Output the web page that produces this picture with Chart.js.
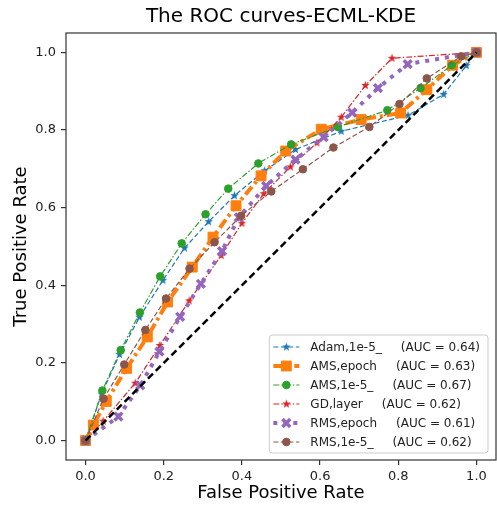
<!DOCTYPE html>
<html lang="en">
<head>
  <meta charset="UTF-8">
  <title>The ROC curves-ECML-KDE</title>
  <script src="https://cdn.jsdelivr.net/npm/chart.js"></script>
  <style>
    body {
      margin: 0;
      background: #fff;
    }
    canvas {
      display: block;
    }
  </style>
</head>
<body>
  <canvas id="roc" width="497" height="506"></canvas>

  <script>
    // values
    const xTicks = [0.0, 0.2, 0.4, 0.6, 0.8, 1.0];
    const yTicks = [0.0, 0.2, 0.4, 0.6, 0.8, 1.0];

    const names = ["Adam,1e-5_", "AMS,epoch", "AMS,1e-5_", "GD,layer", "RMS,epoch", "RMS,1e-5_"];
    const aucs = [0.64, 0.63, 0.67, 0.62, 0.61, 0.62];

    const adamFpr = [0, 0.041, 0.087, 0.138, 0.198, 0.253, 0.315, 0.381, 0.458, 0.537, 0.654, 0.825, 0.916, 0.974, 1];
    const adamTpr = [0, 0.120, 0.222, 0.318, 0.413, 0.496, 0.564, 0.631, 0.695, 0.750, 0.797, 0.838, 0.892, 0.966, 1];

    const amsEpochFpr = [0, 0.020, 0.053, 0.105, 0.158, 0.210, 0.273, 0.326, 0.385, 0.449, 0.512, 0.603, 0.705, 0.806, 0.873, 0.939, 1];
    const amsEpochTpr = [0, 0.040, 0.101, 0.186, 0.267, 0.357, 0.447, 0.524, 0.605, 0.682, 0.746, 0.802, 0.827, 0.844, 0.904, 0.967, 1];

    const ams1eFpr = [0, 0.043, 0.090, 0.139, 0.191, 0.246, 0.307, 0.365, 0.442, 0.526, 0.645, 0.772, 0.857, 0.937, 1];
    const ams1eTpr = [0, 0.129, 0.233, 0.330, 0.423, 0.508, 0.583, 0.649, 0.714, 0.763, 0.808, 0.851, 0.908, 0.967, 1];

    const gdFpr = [0, 0.045, 0.127, 0.190, 0.265, 0.347, 0.400, 0.456, 0.524, 0.592, 0.654, 0.716, 0.784, 1];
    const gdTpr = [0, 0.050, 0.148, 0.245, 0.360, 0.477, 0.560, 0.636, 0.705, 0.767, 0.833, 0.915, 0.985, 1];

    const rmsEpochFpr = [0, 0.084, 0.140, 0.189, 0.242, 0.295, 0.349, 0.392, 0.462, 0.537, 0.609, 0.682, 0.748, 0.824, 1];
    const rmsEpochTpr = [0, 0.062, 0.142, 0.229, 0.319, 0.404, 0.488, 0.575, 0.656, 0.724, 0.782, 0.845, 0.908, 0.970, 1];

    const rms1eFpr = [0, 0.046, 0.099, 0.153, 0.206, 0.266, 0.330, 0.398, 0.475, 0.556, 0.634, 0.726, 0.803, 0.873, 0.961, 1];
    const rms1eTpr = [0, 0.108, 0.196, 0.285, 0.366, 0.443, 0.511, 0.579, 0.642, 0.699, 0.755, 0.808, 0.867, 0.933, 0.990, 1];

    const chanceLine = [0, 1];

    function pts(xs, ys) {
      return xs.map((x, i) => ({ x: x, y: ys[i] }));
    }

    // filled star like matplotlib '*'
    function starImage(color, r) {
      const c = document.createElement("canvas");
      const s = Math.ceil(r * 2 + 2);
      c.width = s;
      c.height = s;
      const g = c.getContext("2d");
      g.beginPath();
      for (let i = 0; i < 10; i++) {
        const ang = -Math.PI / 2 + i * Math.PI / 5;
        const rad = i % 2 ? r * 0.42 : r;
        g.lineTo(s / 2 + rad * Math.cos(ang), s / 2 + rad * Math.sin(ang));
      }
      g.closePath();
      g.fillStyle = color;
      g.fill();
      return c;
    }

    const blue = "#1f77b4", orange = "#ff7f0e", green = "#2ca02c",
          red = "#d62728", purple = "#9467bd", brown = "#8c564b";

    function series(i, xs, ys, color, style, radius, width, dash, order) {
      return {
        label: names[i] + "     (AUC = " + aucs[i].toFixed(2) + ")",
        data: pts(xs, ys),
        showLine: true,
        borderColor: color,
        backgroundColor: color,
        borderWidth: width,
        borderDash: dash,
        pointStyle: style,
        pointRadius: radius,
        pointHoverRadius: radius,
        pointBorderWidth: style === "crossRot" ? 3.5 : 1,
        pointBackgroundColor: color,
        pointBorderColor: color,
        tension: 0,
        order: order
      };
    }

    const datasets = [
      series(0, adamFpr, adamTpr, blue, starImage(blue, 4.5), 4, 1.2, [5, 2.5], 6),
      series(1, amsEpochFpr, amsEpochTpr, orange, "rect", 7, 4, [10, 4, 3, 4], 5),
      series(2, ams1eFpr, ams1eTpr, green, "circle", 3.8, 1.2, [6, 2, 1.5, 2], 4),
      series(3, gdFpr, gdTpr, red, starImage(red, 4.5), 4, 1.2, [6, 2, 1.5, 2], 3),
      series(4, rmsEpochFpr, rmsEpochTpr, purple, "crossRot", 5.5, 4, [4, 6], 2),
      series(5, rms1eFpr, rms1eTpr, brown, "circle", 3.8, 1.2, [5, 2.5], 1),
      {
        label: "",
        data: pts(chanceLine, chanceLine),
        showLine: true,
        borderColor: "#000",
        borderWidth: 2.5,
        borderDash: [7, 4],
        pointRadius: 0,
        order: 0,
        noLegend: true
      }
    ];

    // axes frame + legend inside the plot, bottom right
    const frameAndLegend = {
      id: "frameAndLegend",
      afterDatasetsDraw(chart) {
        const ctx = chart.ctx;
        const a = chart.chartArea;
        ctx.save();
        ctx.strokeStyle = "#333";
        ctx.lineWidth = 1.2;
        ctx.strokeRect(a.left, a.top, a.right - a.left, a.bottom - a.top);
        ctx.restore();
      },
      afterDraw(chart) {
        const ctx = chart.ctx;
        const a = chart.chartArea;
        const items = chart.data.datasets.filter(d => !d.noLegend);
        ctx.save();
        ctx.font = "12px 'DejaVu Sans'";
        let tw = 0;
        items.forEach(d => { tw = Math.max(tw, ctx.measureText(d.label).width); });
        const rowH = 19;
        const w = tw + 49;
        const h = 12 + rowH * (items.length - 1) + 11;
        const x0 = a.right - 8 - w;
        const y0 = a.bottom - 7 - h;

        ctx.beginPath();
        ctx.roundRect(x0, y0, w, h, 3);
        ctx.fillStyle = "rgba(255,255,255,0.85)";
        ctx.fill();
        ctx.strokeStyle = "#ccc";
        ctx.lineWidth = 1;
        ctx.stroke();

        items.forEach((d, i) => {
          const y = y0 + 12 + i * rowH;
          ctx.setLineDash(d.borderDash || []);
          ctx.strokeStyle = d.borderColor;
          ctx.lineWidth = d.borderWidth;
          ctx.beginPath();
          ctx.moveTo(x0 + 4, y);
          ctx.lineTo(x0 + 30, y);
          ctx.stroke();
          ctx.setLineDash([]);
          ctx.fillStyle = d.borderColor;
          ctx.strokeStyle = d.borderColor;
          ctx.lineWidth = d.pointBorderWidth;
          Chart.helpers.drawPoint(ctx, {
            pointStyle: d.pointStyle,
            radius: d.pointRadius,
            borderWidth: d.pointBorderWidth,
            rotation: 0
          }, x0 + 17, y);
          ctx.fillStyle = "#222";
          ctx.textBaseline = "middle";
          ctx.textAlign = "left";
          ctx.fillText(d.label, x0 + 41, y + 0.5);
        });
        ctx.restore();
      }
    };

    const tickFont = { family: "'DejaVu Sans'", size: 13 };
    const titleFont = { family: "'DejaVu Sans'", size: 18 };

    new Chart(document.getElementById("roc"), {
      type: "scatter",
      data: { datasets: datasets },
      options: {
        responsive: false,
        devicePixelRatio: 1,
        animation: false,
        layout: { autoPadding: false, padding: { left: 0, right: 1, top: 0, bottom: 0 } },
        plugins: {
          legend: { display: false },
          tooltip: { enabled: false },
          title: {
            display: true,
            text: "The ROC curves-ECML-KDE",
            color: "#000",
            fullSize: false,
            font: { family: "'DejaVu Sans'", size: 20, weight: "normal" },
            padding: { top: 5, bottom: 4 }
          }
        },
        scales: {
          x: {
            type: "linear",
            min: -0.05,
            max: 1.05,
            afterBuildTicks: s => { s.ticks = xTicks.map(v => ({ value: v })); },
            afterFit: s => { s.height = 46; s.paddingLeft = 0; s.paddingRight = 0; },
            ticks: {
              font: tickFont,
              color: "#222",
              padding: 4,
              maxRotation: 0,
              callback: v => v.toFixed(1)
            },
            grid: { display: true, drawOnChartArea: false, drawTicks: true, tickLength: 5, color: "#333", lineWidth: 1.2 },
            border: { display: false },
            title: { display: true, text: "False Positive Rate", color: "#000", font: titleFont, padding: { top: 0, bottom: 2 } }
          },
          y: {
            type: "linear",
            min: -0.05,
            max: 1.05,
            afterBuildTicks: s => { s.ticks = yTicks.map(v => ({ value: v })); },
            afterFit: s => { s.width = 66; s.paddingTop = 0; s.paddingBottom = 0; },
            ticks: {
              font: tickFont,
              color: "#222",
              padding: 5,
              callback: v => v.toFixed(1)
            },
            grid: { display: true, drawOnChartArea: false, drawTicks: true, tickLength: 5, color: "#333", lineWidth: 1.2 },
            border: { display: false },
            title: { display: true, text: "True Positive Rate", color: "#000", font: titleFont, padding: { top: 11, bottom: 0 } }
          }
        }
      },
      plugins: [frameAndLegend]
    });
  </script>
</body>
</html>
